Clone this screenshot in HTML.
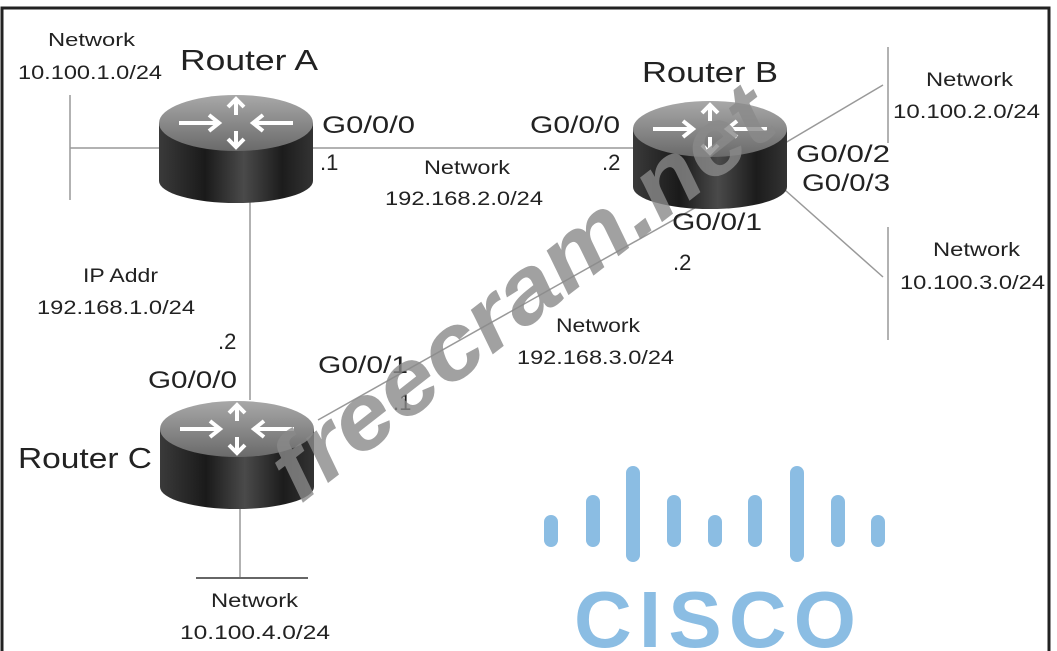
<!DOCTYPE html>
<html><head><meta charset="utf-8"><style>
html,body{margin:0;padding:0;background:#fff;}
svg{display:block;font-family:"Liberation Sans",sans-serif;}
</style></head><body>
<svg width="1057" height="651" viewBox="0 0 1057 651" xmlns="http://www.w3.org/2000/svg">
<defs>
<linearGradient id="body" x1="0" x2="1" y1="0" y2="0">
<stop offset="0" stop-color="#3a3a3a"/><stop offset="0.3" stop-color="#1a1a1a"/><stop offset="0.55" stop-color="#4a4a4a"/><stop offset="0.8" stop-color="#1c1c1c"/><stop offset="1" stop-color="#333"/>
</linearGradient>
<linearGradient id="top" x1="0" x2="0" y1="0" y2="1">
<stop offset="0" stop-color="#a8a8a8"/><stop offset="1" stop-color="#6a6a6a"/>
</linearGradient>
<g id="router">
<path d="M0,28 L0,86 A77,22 0 0 0 154,86 L154,28 Z" fill="url(#body)"/>
<ellipse cx="77" cy="28" rx="77" ry="28" fill="url(#top)"/>
<g stroke="#fff" stroke-width="4" fill="none">
<line x1="20" y1="28" x2="58" y2="28"/><polyline points="50,20 60,28 50,36"/>
<line x1="134" y1="28" x2="96" y2="28"/><polyline points="104,20 94,28 104,36"/>
<line x1="77" y1="5" x2="77" y2="20"/><polyline points="69,12 77,4 85,12"/>
<line x1="77" y1="36" x2="77" y2="51"/><polyline points="69,44 77,52 85,44"/>
</g>
</g>
</defs>
<rect x="2" y="8" width="1047" height="645" fill="none" stroke="#222" stroke-width="3"/>
<g stroke="#999" stroke-width="1.5" fill="none">
<line x1="70" y1="95" x2="70" y2="200"/>
<line x1="70" y1="148" x2="635" y2="148"/>
<line x1="250" y1="200" x2="250" y2="400"/>
<line x1="318" y1="420" x2="700" y2="205"/>
<line x1="785" y1="143" x2="883" y2="85"/>
<line x1="785" y1="190" x2="883" y2="277"/>
<line x1="888" y1="47" x2="888" y2="143"/>
<line x1="888" y1="227" x2="888" y2="340"/>
<line x1="240" y1="500" x2="240" y2="578"/>
<line x1="196" y1="578" x2="308" y2="578" stroke="#666" stroke-width="2"/>
</g>
<use href="#router" x="159" y="95"/>
<use href="#router" x="633" y="101"/>
<use href="#router" x="160" y="401"/>
<g fill="#222">
<text x="48" y="46" font-size="18" textLength="87" lengthAdjust="spacingAndGlyphs">Network</text>
<text x="18" y="79" font-size="19" textLength="144" lengthAdjust="spacingAndGlyphs">10.100.1.0/24</text>
<text x="180" y="70" font-size="29" textLength="138" lengthAdjust="spacingAndGlyphs">Router A</text>
<text x="322" y="133" font-size="24" textLength="93" lengthAdjust="spacingAndGlyphs">G0/0/0</text>
<text x="320" y="170" font-size="22">.1</text>
<text x="424" y="174" font-size="19" textLength="86" lengthAdjust="spacingAndGlyphs">Network</text>
<text x="385" y="205" font-size="19" textLength="158" lengthAdjust="spacingAndGlyphs">192.168.2.0/24</text>
<text x="530" y="133" font-size="24" textLength="90" lengthAdjust="spacingAndGlyphs">G0/0/0</text>
<text x="602" y="170" font-size="22">.2</text>
<text x="642" y="82" font-size="29" textLength="136" lengthAdjust="spacingAndGlyphs">Router B</text>
<text x="926" y="86" font-size="19" textLength="87" lengthAdjust="spacingAndGlyphs">Network</text>
<text x="893" y="118" font-size="19" textLength="147" lengthAdjust="spacingAndGlyphs">10.100.2.0/24</text>
<text x="796" y="162" font-size="24" textLength="94" lengthAdjust="spacingAndGlyphs">G0/0/2</text>
<text x="802" y="191" font-size="24" textLength="88" lengthAdjust="spacingAndGlyphs">G0/0/3</text>
<text x="672" y="230" font-size="24" textLength="90" lengthAdjust="spacingAndGlyphs">G0/0/1</text>
<text x="673" y="270" font-size="22">.2</text>
<text x="933" y="256" font-size="19" textLength="87" lengthAdjust="spacingAndGlyphs">Network</text>
<text x="900" y="289" font-size="19" textLength="145" lengthAdjust="spacingAndGlyphs">10.100.3.0/24</text>
<text x="83" y="282" font-size="19" textLength="75" lengthAdjust="spacingAndGlyphs">IP Addr</text>
<text x="37" y="314" font-size="19" textLength="158" lengthAdjust="spacingAndGlyphs">192.168.1.0/24</text>
<text x="218" y="349" font-size="22">.2</text>
<text x="148" y="388" font-size="24" textLength="89" lengthAdjust="spacingAndGlyphs">G0/0/0</text>
<text x="318" y="373" font-size="24" textLength="90" lengthAdjust="spacingAndGlyphs">G0/0/1</text>
<text x="393" y="410" font-size="22">.1</text>
<text x="556" y="332" font-size="19" textLength="84" lengthAdjust="spacingAndGlyphs">Network</text>
<text x="517" y="364" font-size="19" textLength="157" lengthAdjust="spacingAndGlyphs">192.168.3.0/24</text>
<text x="18" y="468" font-size="29" textLength="134" lengthAdjust="spacingAndGlyphs">Router C</text>
<text x="211" y="607" font-size="19" textLength="87" lengthAdjust="spacingAndGlyphs">Network</text>
<text x="180" y="639" font-size="19" textLength="150" lengthAdjust="spacingAndGlyphs">10.100.4.0/24</text>
</g>
<g stroke="#8bbde3" stroke-width="14" stroke-linecap="round">
<line x1="551" y1="522" x2="551" y2="540"/>
<line x1="593" y1="502" x2="593" y2="540"/>
<line x1="633" y1="473" x2="633" y2="555"/>
<line x1="674" y1="502" x2="674" y2="540"/>
<line x1="715" y1="522" x2="715" y2="540"/>
<line x1="755" y1="502" x2="755" y2="540"/>
<line x1="797" y1="473" x2="797" y2="555"/>
<line x1="838" y1="502" x2="838" y2="540"/>
<line x1="878" y1="522" x2="878" y2="540"/>
</g>
<text x="574" y="647" font-size="80" font-weight="bold" fill="#8bbde3" textLength="282" lengthAdjust="spacing">CISCO</text>
<text transform="translate(300,505) rotate(-38)" font-size="92" font-weight="bold" font-style="italic" fill="#8a8a8a" fill-opacity="0.8" textLength="610" lengthAdjust="spacingAndGlyphs">freecram.net</text>
</svg>
</body></html>
